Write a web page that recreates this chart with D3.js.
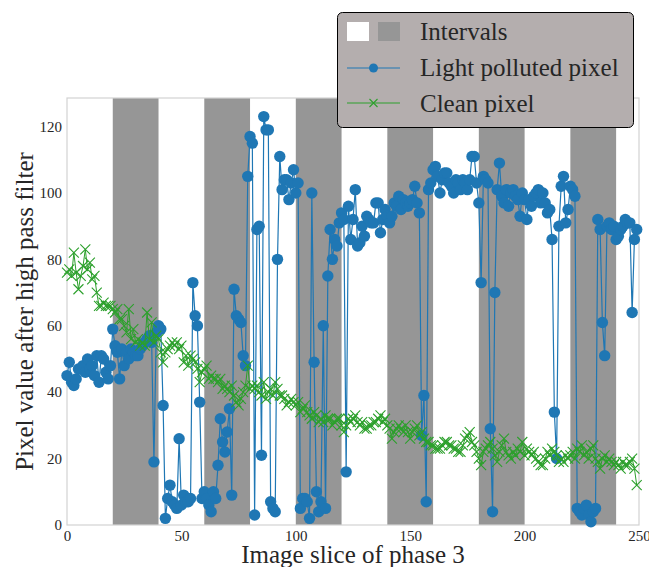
<!DOCTYPE html>
<html>
<head>
<meta charset="utf-8">
<script src="https://cdn.jsdelivr.net/npm/d3@7"></script>
<style>
  body { margin: 0; background: #fff; }
  svg text { font-family: "Liberation Serif", "DejaVu Serif", serif; fill: #262626; }
</style>
</head>
<body>
<script>
// slices 0..249 of phase 3
var polluted = [
  45, 49, 43, 42, 44, 47, 47, 48, 46, 50, 47, 48, 45, 51, 43, 51, 50, 46, 44, 48,
  59, 54, 52, 44, 53, 48, 52, 50, 53, 52, 51, 51, 53, 54, 55, 56, 57, 55, 19, 58,
  60, 59, 36, 2, 8, 12, 7, 6, 5, 26, 6, 9, 7, 7, 8, 73, 63, 60, 37, 8,
  10, 8, 6, 4, 10, 8, 18, 32, 25, 22, 28, 35, 9, 71, 63, 62, 61, 51, 48, 105,
  117, 115, 3, 89, 90, 21, 123, 119, 119, 7, 5, 4, 80, 111, 101, 104, 104, 98, 103, 107,
  100, 103, 5, 8, 8, 7, 2, 100, 49, 10, 4, 7, 60, 5, 75, 89, 80, 86, 84, 91,
  94, 92, 16, 96, 86, 92, 101, 84, 85, 90, 87, 93, 92, 91, 91, 97, 97, 88, 92, 95,
  93, 91, 93, 97, 96, 99, 95, 98, 97, 96, 97, 98, 102, 97, 94, 27, 39, 7, 101, 103,
  107, 108, 105, 100, 104, 106, 106, 103, 102, 100, 104, 103, 101, 104, 103, 101, 104, 111, 111, 103,
  97, 73, 105, 104, 103, 29, 4, 70, 101, 109, 99, 97, 101, 96, 100, 101, 99, 98, 93, 100,
  98, 92, 98, 96, 99, 100, 101, 97, 100, 97, 94, 95, 86, 34, 20, 90, 102, 105, 91, 95,
  102, 101, 99, 5, 4, 3, 5, 6, 3, 1, 4, 5, 92, 89, 61, 51, 90, 91, 89, 90,
  86, 87, 89, 90, 92, 91, 91, 64, 86, 89
];
var clean = [
  76, 77, 75, 82, 76, 71, 75, 78, 83, 77, 79, 74, 75, 70, 66, 66, 67, 66, 66, 66,
  65, 64, 65, 62, 62, 60, 58, 65, 56, 59, 55, 56, 54, 55, 54, 64, 56, 61, 55, 57,
  56, 52, 49, 52, 53, 54, 55, 54, 55, 53, 54, 49, 51, 48, 51, 50, 49, 47, 43, 46,
  47, 48, 44, 45, 44, 44, 43, 44, 41, 42, 41, 40, 42, 39, 37, 36, 38, 40, 42, 48,
  41, 42, 41, 42, 40, 39, 43, 38, 40, 41, 39, 43, 41, 39, 39, 38, 36, 37, 38, 37,
  36, 37, 34, 35, 36, 34, 33, 32, 34, 33, 31, 32, 31, 33, 32, 32, 30, 31, 32, 32,
  30, 28, 30, 32, 31, 32, 33, 31, 30, 31, 29, 29, 30, 30, 31, 31, 32, 33, 31, 32,
  30, 29, 26, 28, 29, 30, 29, 28, 30, 28, 26, 28, 29, 30, 27, 28, 26, 25, 25, 24,
  24, 23, 23, 23, 24, 25, 25, 24, 24, 23, 23, 22, 22, 24, 26, 27, 28, 25, 24, 22,
  20, 18, 22, 23, 24, 25, 23, 21, 19, 22, 24, 26, 22, 21, 20, 22, 21, 23, 22, 25,
  21, 23, 22, 21, 22, 20, 19, 18, 18, 20, 22, 21, 23, 22, 21, 19, 20, 19, 21, 20,
  21, 22, 20, 23, 22, 24, 21, 22, 20, 23, 24, 20, 19, 17, 20, 21, 19, 20, 19, 18,
  19, 18, 17, 19, 18, 18, 19, 20, 17, 12
];
var intervals = [[20, 40], [60, 80], [100, 120], [140, 160], [180, 200], [220, 240]];
var xTicks = [0, 50, 100, 150, 200, 250];
var yTicks = [0, 20, 40, 60, 80, 100, 120];

var W = 649, H = 567;
var pLeft = 67, pRight = 639, pTop = 98, pBottom = 525;
var blue = "#1f77b4", green = "#2ca02c";

var svg = d3.select("body").append("svg")
    .attr("width", W)
    .attr("height", H);

var x = d3.scaleLinear().domain([0, 250]).range([pLeft, pRight]);
var y = d3.scaleLinear().domain([0, 128.6]).range([pBottom, pTop]);

//区間の帯
svg.selectAll("rect.band")
    .data(intervals)
    .enter()
    .append("rect")
    .attr("class", "band")
    .attr("x", function (d) { return x(d[0]); })
    .attr("y", pTop)
    .attr("width", function (d) { return x(d[1]) - x(d[0]); })
    .attr("height", pBottom - pTop)
    .attr("fill", "#969696");

//枠
svg.append("rect")
    .attr("x", pLeft).attr("y", pTop)
    .attr("width", pRight - pLeft).attr("height", pBottom - pTop)
    .attr("fill", "none")
    .attr("stroke", "#d2d2d2")
    .attr("stroke-width", 1.2);

//軸
var xAxis = svg.append("g")
    .attr("transform", "translate(0," + pBottom + ")")
    .call(d3.axisBottom(x).tickValues(xTicks).tickSize(0).tickPadding(5));
var yAxis = svg.append("g")
    .attr("transform", "translate(" + pLeft + ",0)")
    .call(d3.axisLeft(y).tickValues(yTicks).tickSize(0).tickPadding(5));
[xAxis, yAxis].forEach(function (g) {
    g.select(".domain").remove();
    g.selectAll("text")
        .attr("font-family", "Liberation Serif")
        .attr("font-size", "15px")
        .attr("fill", "#262626");
});

var line = d3.line()
    .x(function (d, i) { return x(i); })
    .y(function (d) { return y(d); });

//光害ピクセル
svg.append("path")
    .datum(polluted)
    .attr("d", line)
    .attr("fill", "none")
    .attr("stroke", blue)
    .attr("stroke-width", 1.2);
svg.selectAll("circle.pol")
    .data(polluted)
    .enter()
    .append("circle")
    .attr("class", "pol")
    .attr("cx", function (d, i) { return x(i); })
    .attr("cy", function (d) { return y(d); })
    .attr("r", 5.7)
    .attr("fill", blue);

//クリーンピクセル
svg.append("path")
    .datum(clean)
    .attr("d", line)
    .attr("fill", "none")
    .attr("stroke", green)
    .attr("stroke-width", 1);
var cross = function (s) {
    return "M" + (-s) + "," + (-s) + "L" + s + "," + s + "M" + (-s) + "," + s + "L" + s + "," + (-s);
};
svg.selectAll("path.cl")
    .data(clean)
    .enter()
    .append("path")
    .attr("class", "cl")
    .attr("transform", function (d, i) { return "translate(" + x(i) + "," + y(d) + ")"; })
    .attr("d", cross(5))
    .attr("stroke", green)
    .attr("stroke-width", 1.1)
    .attr("fill", "none");

//軸ラベル
svg.append("text")
    .attr("x", (pLeft + pRight) / 2)
    .attr("y", 563)
    .attr("text-anchor", "middle")
    .attr("font-size", "25px")
    .text("Image slice of phase 3");
svg.append("text")
    .attr("transform", "translate(33," + (pTop + pBottom) / 2 + ") rotate(-90)")
    .attr("text-anchor", "middle")
    .attr("font-size", "25px")
    .text("Pixel value after high pass filter");

//凡例
var lg = svg.append("g");
lg.append("rect")
    .attr("x", 337.5).attr("y", 12.5)
    .attr("width", 296).attr("height", 115)
    .attr("rx", 5).attr("ry", 5)
    .attr("fill", "#b4aeae")
    .attr("stroke", "#000")
    .attr("stroke-width", 1);
lg.append("rect").attr("x", 347).attr("y", 22).attr("width", 22).attr("height", 19).attr("fill", "#fff");
lg.append("rect").attr("x", 378).attr("y", 22).attr("width", 22).attr("height", 19).attr("fill", "#969696");
lg.append("line").attr("x1", 347).attr("x2", 400).attr("y1", 68).attr("y2", 68)
    .attr("stroke", blue).attr("stroke-width", 1.2);
lg.append("circle").attr("cx", 373.5).attr("cy", 68).attr("r", 4.5).attr("fill", blue);
lg.append("line").attr("x1", 347).attr("x2", 400).attr("y1", 103).attr("y2", 103)
    .attr("stroke", green).attr("stroke-width", 1);
lg.append("path").attr("transform", "translate(373.5,103)").attr("d", cross(4))
    .attr("stroke", green).attr("stroke-width", 1.1);
var labels = ["Intervals", "Light polluted pixel", "Clean pixel"];
lg.selectAll("text")
    .data(labels)
    .enter()
    .append("text")
    .attr("x", 420)
    .attr("y", function (d, i) { return 40 + i * 36; })
    .attr("font-size", "25px")
    .text(function (d) { return d; });
</script>
</body>
</html>
